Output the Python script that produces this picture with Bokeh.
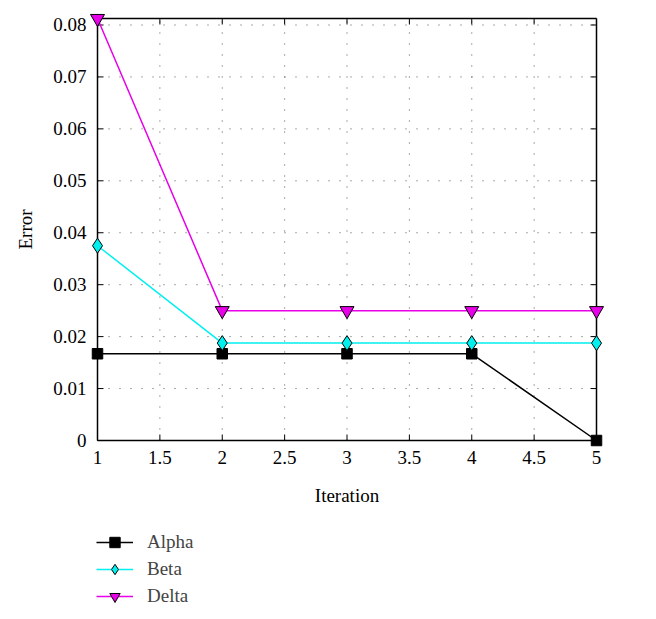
from bokeh.plotting import figure
from bokeh.layouts import column
from bokeh.models import Legend, LegendItem, FixedTicker, Range1d
from bokeh.embed import file_html
from bokeh.resources import INLINE

iterations = [1, 2, 3, 4, 5]
alpha = [0.0167, 0.0167, 0.0167, 0.0167, 0.0]
beta = [0.0375, 0.01875, 0.01875, 0.01875, 0.01875]
delta = [0.08125, 0.025, 0.025, 0.025, 0.025]
x_ticks = [1, 1.5, 2, 2.5, 3, 3.5, 4, 4.5, 5]
y_ticks = [0, 0.01, 0.02, 0.03, 0.04, 0.05, 0.06, 0.07, 0.08]
y_top = 0.08125
series_names = ["Alpha", "Beta", "Delta"]

FONT = "Liberation Serif"
FS = "19px"
BLACK, CYAN, MAGENTA = "black", "#00F0F0", "#E800E8"

BOX_W, BOX_H, PAD, TICK = 499, 422, 9, 6
LEFT, TOP, BOTTOM = 88, 9, 70
xmin, xmax = x_ticks[0], x_ticks[-1]
ymin, ymax = y_ticks[0], y_top
ux = (xmax - xmin) / BOX_W   # data units per pixel
uy = (ymax - ymin) / BOX_H


def draw_series(fig):
    la = fig.line(iterations, alpha, line_color=BLACK, line_width=1.5)
    ma = fig.scatter(iterations, alpha, marker="square", size=10.5, fill_color=BLACK, line_color=BLACK)
    lb = fig.line(iterations, beta, line_color=CYAN, line_width=1.5)
    mb = fig.scatter(iterations, beta, marker="diamond", size=15,
                     fill_color=CYAN, line_color=BLACK, line_width=1)
    ld = fig.line(iterations, delta, line_color=MAGENTA, line_width=1.5)
    md = fig.scatter(iterations, delta, marker="inverted_triangle", size=14, fill_color=MAGENTA,
                     line_color=BLACK, line_width=1)
    return [[la, ma], [lb, mb], [ld, md]]


FW = BOX_W + 2 * PAD
p = figure(frame_width=FW, frame_height=BOX_H + 2 * PAD,
           output_backend="svg", toolbar_location=None,
           x_range=Range1d(xmin - PAD * ux, xmax + PAD * ux),
           y_range=Range1d(ymin - PAD * uy, ymax + PAD * uy),
           min_border_left=LEFT, min_border_right=656 - LEFT - FW, min_border_top=TOP,
           min_border_bottom=BOTTOM,
           x_axis_label="Iteration", y_axis_label="Error")

p.outline_line_color = None
p.background_fill_color = "white"
p.border_fill_color = "white"
p.xgrid.visible = False
p.ygrid.visible = False

for ax in p.xaxis:
    ax.ticker = FixedTicker(ticks=x_ticks)
for ax in p.yaxis:
    ax.ticker = FixedTicker(ticks=y_ticks)
    ax.major_label_overrides = {0: "0"}

for ax in list(p.xaxis) + list(p.yaxis):
    ax.axis_line_color = None
    ax.major_tick_line_color = None
    ax.major_tick_in = 0
    ax.major_tick_out = 0
    ax.minor_tick_line_color = None
    ax.major_label_text_font = FONT
    ax.major_label_text_font_size = FS
    ax.major_label_text_color = "black"
    ax.axis_label_text_font = FONT
    ax.axis_label_text_font_size = FS
    ax.axis_label_text_font_style = "normal"
    ax.axis_label_text_color = "black"

p.xaxis.major_label_standoff = 1
p.xaxis.axis_label_standoff = 18
p.yaxis.major_label_standoff = 2
p.yaxis.axis_label_standoff = 14

# dotted grid inside the box, from the tick arrays
gx = x_ticks[1:-1]
gy = y_ticks[1:]
p.segment(x0=gx, y0=[ymin] * len(gx), x1=gx, y1=[ymax] * len(gx),
          line_color="#555555", line_dash="1 10", line_width=1)
p.segment(x0=[xmin] * len(gy), y0=gy, x1=[xmax] * len(gy), y1=gy,
          line_color="#555555", line_dash="1 10", line_width=1)

# inward ticks on all four sides
p.segment(x0=x_ticks, y0=[ymin] * len(x_ticks), x1=x_ticks, y1=[ymin + TICK * uy] * len(x_ticks),
          line_color="black", line_width=1)
p.segment(x0=x_ticks, y0=[ymax] * len(x_ticks), x1=x_ticks, y1=[ymax - TICK * uy] * len(x_ticks),
          line_color="black", line_width=1)
p.segment(x0=[xmin] * len(y_ticks), y0=y_ticks, x1=[xmin + TICK * ux] * len(y_ticks), y1=y_ticks,
          line_color="black", line_width=1)
p.segment(x0=[xmax] * len(y_ticks), y0=y_ticks, x1=[xmax - TICK * ux] * len(y_ticks), y1=y_ticks,
          line_color="black", line_width=1)

# the box
p.segment(x0=[xmin, xmin, xmin, xmax], y0=[ymin, ymin, ymax, ymin],
          x1=[xmax, xmin, xmax, xmax], y1=[ymin, ymax, ymax, ymax],
          line_color="black", line_width=1.5)

draw_series(p)

# legend below, in its own strip (its frame is aligned with the plot frame)
L_H = 96
q = figure(width=656, height=L_H, output_backend="svg", toolbar_location=None,
           x_range=Range1d(-20, -19), y_range=Range1d(-20, -19),
           x_axis_type=None, y_axis_type=None,
           min_border_left=0, min_border_right=0, min_border_top=0, min_border_bottom=0)
q.outline_line_color = None
q.xgrid.visible = False
q.ygrid.visible = False
rends = draw_series(q)

legend = Legend(items=[LegendItem(label=n, renderers=r) for n, r in zip(series_names, rends)],
                location=(8, 6), orientation="vertical")
legend.border_line_color = None
legend.background_fill_alpha = 0
legend.label_text_font = FONT
legend.label_text_font_size = FS
legend.glyph_width = 37
legend.glyph_height = 26
legend.spacing = 1
legend.label_standoff = 14
legend.padding = 0
legend.margin = 0
legend.label_height = 20
q.add_layout(legend)

layout = column(p, q, spacing=0)
open("out.html", "w").write(file_html(layout, INLINE))
